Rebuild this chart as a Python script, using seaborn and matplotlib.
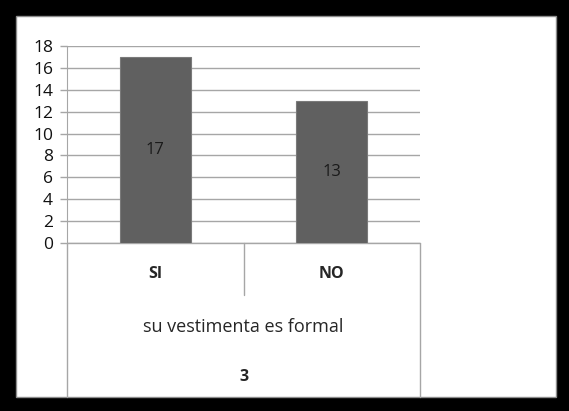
import matplotlib
matplotlib.use("Agg")
import matplotlib.pyplot as plt
import matplotlib.patches as patches
import seaborn as sns
import pandas as pd

categories = ["SI", "NO"]
values = [17, 13]
group_label = "su vestimenta es formal"
question_number = "3"

sns.set_style("white")
plt.rcParams["font.family"] = ["Open Sans", "DejaVu Sans"]

fig = plt.figure(figsize=(5.69, 4.11), dpi=100)
fig.patch.set_facecolor("black")

# white inner panel with thin grey edge
fig.patches.append(patches.Rectangle(
    (16 / 569, 14 / 411), 540 / 569, 381 / 411,
    transform=fig.transFigure, facecolor="white", edgecolor="#8c8c8c",
    linewidth=1.0, zorder=-5))

ax = fig.add_axes([67 / 569, 168 / 411, 353 / 569, 197 / 411])
ax.set_zorder(2)
ax.set_facecolor("white")

df = pd.DataFrame({"cat": categories, "val": values})
sns.barplot(data=df, x="cat", y="val", color="#606060", width=0.4,
            edgecolor="#7a7a7a", linewidth=0.8, saturation=1, ax=ax, zorder=3)

ax.set_xlim(-0.5, len(categories) - 0.5)
ax.set_ylim(0, 18)
ax.set_yticks(range(0, 19, 2))
ax.yaxis.grid(True, color="#a6a6a6", linewidth=1.0, zorder=0)
ax.set_axisbelow(True)
for side in ["top", "right", "bottom"]:
    ax.spines[side].set_visible(False)
ax.spines["left"].set_color("#a6a6a6")
ax.tick_params(axis="y", length=5, width=1, color="#a6a6a6", labelsize=12.5,
               pad=5, left=True, labelcolor="#111111")
ax.set_xticks([])
ax.set_xlabel("")
ax.set_ylabel("")

ax.bar_label(ax.containers[0], labels=[str(v) for v in values],
             label_type="center", fontsize=12, color="#1a1a1a")

# category table under the plot
trans = ax.transAxes
ly = -154 / 197  # bottom of table in axes fraction
lines = [
    ([0, 1], [0, 0]),
    ([0, 0], [0, ly]),
    ([1, 1], [0, ly]),
    ([0.5, 0.5], [0, -52 / 197]),
]
for xs, ys in lines:
    ax.plot(xs, ys, transform=trans, color="#a6a6a6", linewidth=1.0,
            clip_on=False)

for i, c in enumerate(categories):
    ax.text((i + 0.5) / len(categories), -31 / 197, c, transform=trans,
            ha="center", va="center", fontsize=11.5, fontweight="bold")
ax.text(0.5, -84 / 197, group_label, transform=trans, ha="center",
        va="center", fontsize=13)
ax.text(0.5, -134 / 197, question_number, transform=trans, ha="center",
        va="center", fontsize=11.5, fontweight="bold")

fig.savefig("out.png", dpi=100, facecolor=fig.get_facecolor())
